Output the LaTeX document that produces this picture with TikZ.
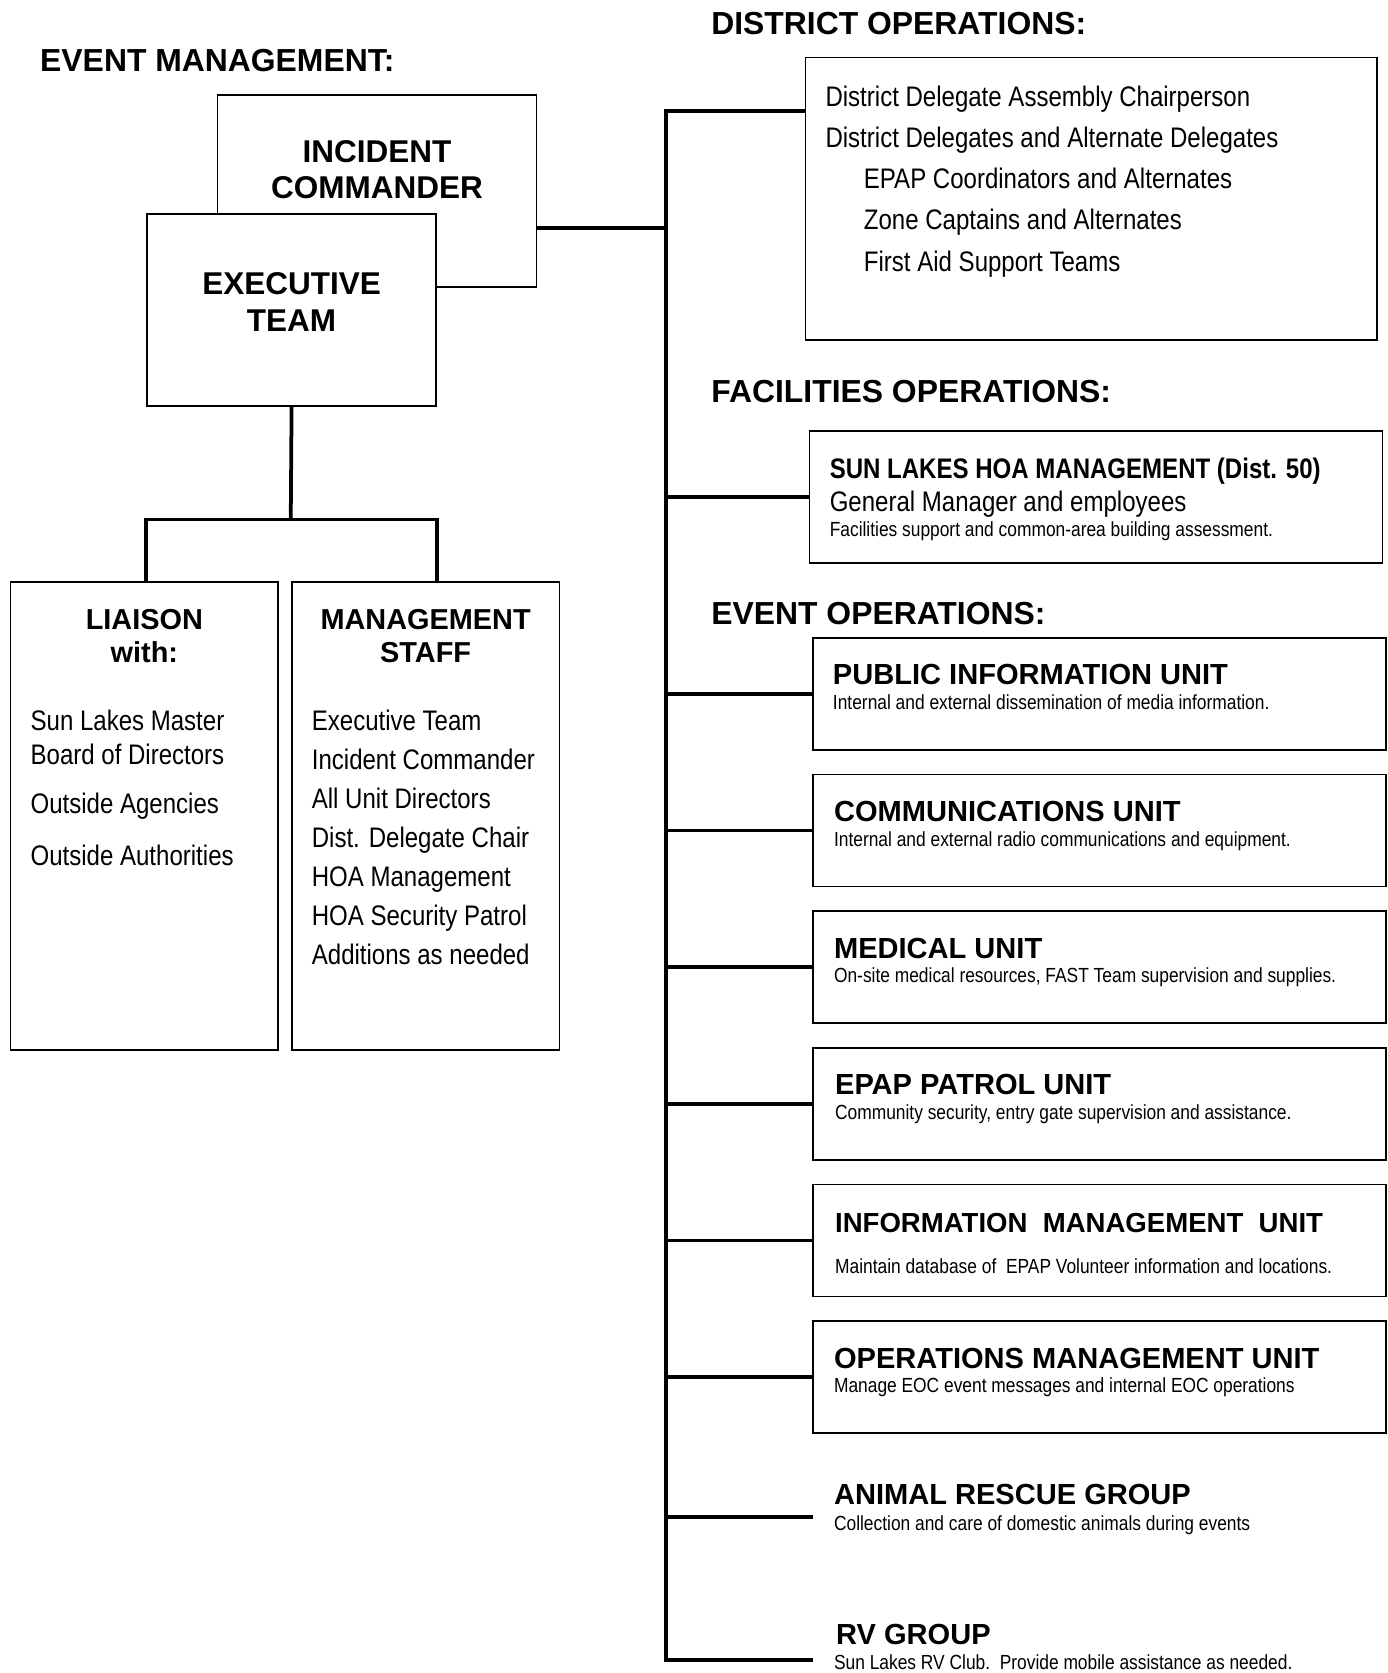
\documentclass[tikz,border=0pt]{standalone}
\usepackage{fontspec}
\setmainfont{Liberation Sans}
\newfontfamily\narrowfont{Liberation Sans}[FakeStretch=0.85]
\usetikzlibrary{positioning, calc}

\begin{document}
\begin{tikzpicture}[
  box/.style={draw, line width=0.45pt, fill=white, inner sep=0pt, anchor=north west},
  unitbox/.style={box, minimum width=5.37cm, minimum height=1.05cm},
  link/.style={line width=1pt},
  heading/.style={font=\fontsize{8.5}{10}\selectfont\bfseries, anchor=base west, inner sep=0pt},
  bigtitle/.style={font=\fontsize{8.4}{9.7}\selectfont\bfseries, align=center, inner sep=0pt},
  coltitle/.style={font=\fontsize{7.7}{8.9}\selectfont\bfseries, align=center, inner sep=0pt},
  unittitle/.style={font=\fontsize{7.75}{9}\selectfont\bfseries, anchor=base west, inner sep=0pt},
  unitdesc/.style={font=\narrowfont\fontsize{5.45}{6.5}\selectfont, anchor=base west, inner sep=0pt},
  bodytext/.style={font=\narrowfont\fontsize{7.54}{10.4}\selectfont, align=left, inner sep=0pt}
]
\useasboundingbox (0,0) rectangle (13,-15.68);

% headings
\node (em-head) [heading] at (0.37,-0.67) {EVENT MANAGEMENT:};
\node (do-head) [heading] at (6.66,-0.325) {DISTRICT OPERATIONS:};
\node (fo-head) [heading] at (6.66,-3.775) {FACILITIES OPERATIONS:};
\node (eo-head) [heading] at (6.66,-5.85) {EVENT OPERATIONS:};

% event management
\node (ic) [box, minimum width=2.99cm, minimum height=1.80cm] at (2.03,-0.88) {};
\node (ic-txt) [bigtitle, below=0.43cm of ic.north] {INCIDENT\\COMMANDER};
\node (exec) [box, minimum width=2.71cm, minimum height=1.80cm] at (1.37,-2.00) {};
\node (exec-txt) [bigtitle, below=0.55cm of exec.north] {EXECUTIVE\\TEAM};

\node (liaison) [box, minimum width=2.51cm, minimum height=4.38cm] at (0.09,-5.45) {};
\node (mgmt) [box, minimum width=2.51cm, minimum height=4.38cm, right=0.11cm of liaison] {};
\node (liaison-title) [coltitle, below=0.25cm of liaison.north] {LIAISON\\with:};
\node (mgmt-title) [coltitle, below=0.25cm of mgmt.north] {MANAGEMENT\\STAFF};
\node (liaison-list) [bodytext, font=\narrowfont\fontsize{7.54}{9.1}\selectfont,
  below right=1.20cm and 0.19cm of liaison.north west]
  {Sun Lakes Master\\Board of Directors\\[0.14cm]Outside Agencies\\[0.16cm]Outside Authorities};
\node (mgmt-list) [bodytext, below right=1.20cm and 0.19cm of mgmt.north west]
  {Executive Team\\Incident Commander\\All Unit Directors\\Dist. Delegate Chair\\HOA Management\\HOA Security Patrol\\Additions as needed};

% district operations
\node (dist) [box, minimum width=5.36cm, minimum height=2.65cm] at (7.54,-0.53) {};
\node (dist-list) [bodytext, font=\narrowfont\fontsize{7.54}{11}\selectfont,
  below right=0.265cm and 0.19cm of dist.north west]
  {District Delegate Assembly Chairperson\\
   District Delegates and Alternate Delegates\\
   \hspace*{0.36cm}EPAP Coordinators and Alternates\\
   \hspace*{0.36cm}Zone Captains and Alternates\\
   \hspace*{0.36cm}First Aid Support Teams};

% facilities operations
\node (fac) [box, minimum width=5.37cm, minimum height=1.24cm] at (7.58,-4.03) {};
\node (fac-title) [unittitle, font=\narrowfont\fontsize{7.54}{9}\selectfont\bfseries] at ($(fac.north west)+(0.19,-0.45)$) {SUN LAKES HOA MANAGEMENT (Dist. 50)};
\node (fac-sub) [unittitle, font=\narrowfont\fontsize{7.54}{9}\selectfont] at ($(fac.north west)+(0.19,-0.76)$) {General Manager and employees};
\node (fac-desc) [unitdesc] at ($(fac.north west)+(0.19,-1.00)$) {Facilities support and common-area building assessment.};

% event operations
\node (piu) [unitbox] at (7.61,-5.97) {};
\node (comm) [unitbox, below=0.215cm of piu] {};
\node (med) [unitbox, below=0.215cm of comm] {};
\node (epap) [unitbox, below=0.215cm of med] {};
\node (info) [unitbox, below=0.215cm of epap] {};
\node (ops) [unitbox, below=0.215cm of info] {};

\node (piu-title) [unittitle] at ($(piu.north west)+(0.19,-0.45)$) {PUBLIC INFORMATION UNIT};
\node (piu-desc) [unitdesc] at ($(piu.north west)+(0.19,-0.68)$) {Internal and external dissemination of media information.};
\node (comm-title) [unittitle] at ($(comm.north west)+(0.20,-0.45)$) {COMMUNICATIONS UNIT};
\node (comm-desc) [unitdesc] at ($(comm.north west)+(0.20,-0.68)$) {Internal and external radio communications and equipment.};
\node (med-title) [unittitle] at ($(med.north west)+(0.20,-0.45)$) {MEDICAL UNIT};
\node (med-desc) [unitdesc] at ($(med.north west)+(0.20,-0.68)$) {On-site medical resources, FAST Team supervision and supplies.};
\node (epap-title) [unittitle] at ($(epap.north west)+(0.21,-0.45)$) {EPAP PATROL UNIT};
\node (epap-desc) [unitdesc] at ($(epap.north west)+(0.21,-0.68)$) {Community security, entry gate supervision and assistance.};
\node (info-title) [unittitle, font=\fontsize{7.35}{9}\selectfont\bfseries] at ($(info.north west)+(0.21,-0.46)$) {INFORMATION\ \ MANAGEMENT\ \ UNIT};
\node (info-desc) [unitdesc] at ($(info.north west)+(0.21,-0.84)$) {Maintain database of\ \ EPAP Volunteer information and locations.};
\node (ops-title) [unittitle] at ($(ops.north west)+(0.20,-0.45)$) {OPERATIONS MANAGEMENT UNIT};
\node (ops-desc) [unitdesc] at ($(ops.north west)+(0.20,-0.68)$) {Manage EOC event messages and internal EOC operations};

\node (animal-title) [unittitle] at (7.81,-14.10) {ANIMAL RESCUE GROUP};
\node (animal-desc) [unitdesc] at (7.81,-14.34) {Collection and care of domestic animals during events};
\node (rv-title) [unittitle] at (7.83,-15.41) {RV GROUP};
\node (rv-desc) [unitdesc] at (7.81,-15.645) {Sun Lakes RV Club.\ \ Provide mobile assistance as needed.};

% connectors
\coordinate (spine) at (6.24,0);
\coordinate (fork) at (2.725,-4.87);
\coordinate (animal-end) at (7.62,-14.215);
\coordinate (rv-end) at (7.62,-15.56);

\draw [link] (exec.south) -- (fork);
\draw [link] (liaison.north -| exec.west) |- (fork) -| (mgmt.north -| exec.east);
\draw [link] (ic.-13) -- (ic.-13 -| spine);
\draw [link] (dist.163) -- (dist.163 -| spine) -- (spine |- rv-end) -- (rv-end);
\draw [link] (fac.west) -- (fac.west -| spine);
\draw [link] (piu.west) -- (piu.west -| spine);
\draw [link] (comm.west) -- (comm.west -| spine);
\draw [link] (med.west) -- (med.west -| spine);
\draw [link] (epap.west) -- (epap.west -| spine);
\draw [link] (info.west) -- (info.west -| spine);
\draw [link] (ops.west) -- (ops.west -| spine);
\draw [link] (animal-end) -- (animal-end -| spine);

\end{tikzpicture}
\end{document}
